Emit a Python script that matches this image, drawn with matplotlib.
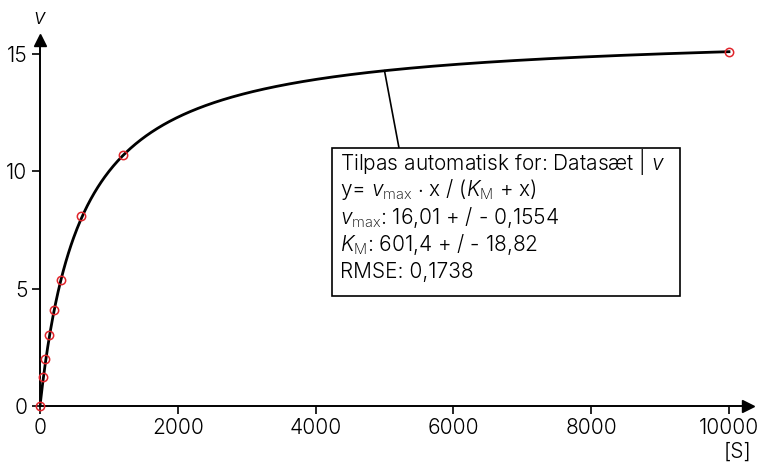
import matplotlib
matplotlib.use("Agg")
import matplotlib.pyplot as plt
import numpy as np
from matplotlib.patches import Rectangle

plt.rcParams["font.family"] = ["Inter", "DejaVu Sans"]
plt.rcParams["font.weight"] = 300
plt.rcParams["mathtext.fontset"] = "custom"
plt.rcParams["mathtext.rm"] = "Inter:light"
plt.rcParams["mathtext.it"] = "Inter:italic"

# measured data (substrate concentration [S] vs rate v)
s_vals = [0, 50, 75, 130, 200, 300, 600, 1200, 10000]
v_vals = [0, 1.22, 2.02, 3.01, 4.10, 5.38, 8.10, 10.69, 15.08]

# fitted Michaelis-Menten parameters shown in the box
VMAX = 16.01
KM = 601.4

xticks = [0, 2000, 4000, 6000, 8000, 10000]
yticks = [0, 5, 10, 15]

W, H = 758, 468
FS = 15
fig = plt.figure(figsize=(W / 100, H / 100), dpi=100)
ax = fig.add_axes([40 / W, (H - 406) / H, 708 / W, 366 / H])
ax.set_xlim(0, 10276)
ax.set_ylim(0, 15.6)

for side in ("top", "right"):
    ax.spines[side].set_visible(False)
for side in ("left", "bottom"):
    ax.spines[side].set_linewidth(1.4)
ax.plot(1, 0, ">", color="black", ms=9, transform=ax.transAxes, clip_on=False)
ax.plot(0, 1, "^", color="black", ms=9, transform=ax.transAxes, clip_on=False)

ax.set_xticks(xticks)
ax.set_yticks(yticks)
ax.tick_params(direction="out", length=6, width=1.2, labelsize=FS, pad=3)

# fitted curve
xs = np.linspace(0, 10000, 800)
ax.plot(xs, VMAX * xs / (KM + xs), color="black", lw=2, zorder=3)
ax.plot(s_vals, v_vals, "o", mfc="none", mec="#e0242b", ms=6, mew=1.1,
        zorder=4, clip_on=False)

# axis labels
fig.text(40 / W, (H - 18) / H, "$v$", fontsize=FS, ha="center", va="center")
fig.text(737 / W, (H - 452) / H, "[S]", fontsize=FS, ha="center", va="center")

# leader line from curve to box
px2x = lambda px: (px - 40) / 708 * 10276
py2y = lambda py: (406 - py) / 366 * 15.6
ax.plot([5000, px2x(399)], [VMAX * 5000 / (KM + 5000), py2y(148)],
        color="black", lw=1.2, clip_on=False)

# fit info box
fig.patches.append(Rectangle((332 / W, (H - 296) / H), 348 / W, 148 / H,
                             transform=fig.transFigure, fill=True, fc="white",
                             ec="black", lw=1.2, zorder=5))
lines = [
    "Tilpas automatisk for: Datasæt | $v$",
    r"y= $v_{\mathrm{max}}$ $\cdot$ x / ($K_{\mathrm{M}}$ + x)",
    r"$v_{\mathrm{max}}$: 16,01 + / - 0,1554",
    r"$K_{\mathrm{M}}$: 601,4 + / - 18,82",
    "RMSE: 0,1738",
]
for i, t in enumerate(lines):
    fig.text(340 / W, (H - (162 + 27.5 * i)) / H, t, fontsize=FS,
             ha="left", va="center", zorder=6)

fig.savefig("out.png", dpi=100)
